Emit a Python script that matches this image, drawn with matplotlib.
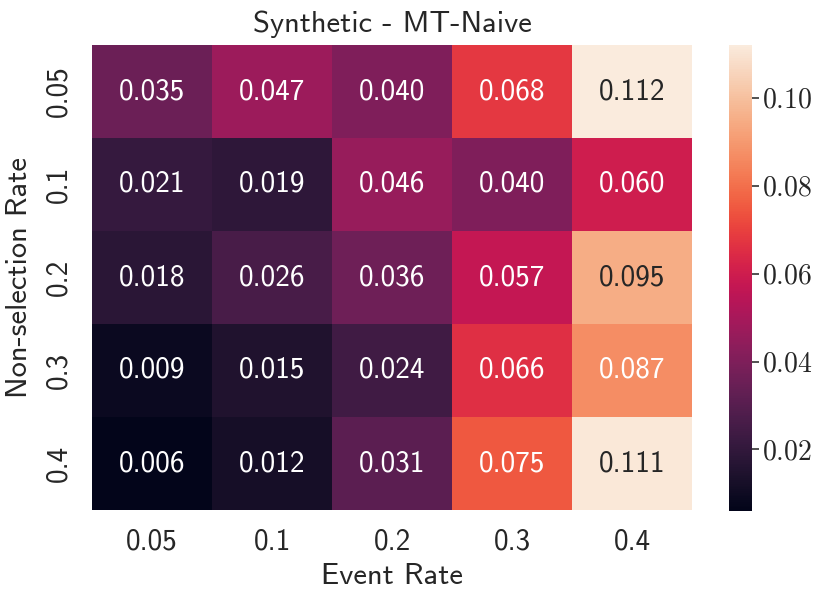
import os
import numpy as np
import matplotlib
matplotlib.use("Agg")
import matplotlib.pyplot as plt
import matplotlib.font_manager as fm
import seaborn as sns
from matplotlib.ticker import FuncFormatter

event_rates = ["0.05", "0.1", "0.2", "0.3", "0.4"]
nonsel_rates = ["0.05", "0.1", "0.2", "0.3", "0.4"]
values = np.array([
    [0.035, 0.047, 0.040, 0.068, 0.112],
    [0.021, 0.019, 0.046, 0.040, 0.060],
    [0.018, 0.026, 0.036, 0.057, 0.095],
    [0.009, 0.015, 0.024, 0.066, 0.087],
    [0.006, 0.012, 0.031, 0.075, 0.111],
])

ttf_dir = os.path.join(matplotlib.get_data_path(), "fonts", "ttf")
for f in ("cmss10.ttf", "cmr10.ttf"):
    p = os.path.join(ttf_dir, f)
    if os.path.exists(p):
        fm.fontManager.addfont(p)

sns.set_theme(style="white")
plt.rcParams['font.family'] = ['cmss10', 'DejaVu Sans']
plt.rcParams['mathtext.fontset'] = 'cm'
plt.rcParams['axes.unicode_minus'] = False

fig = plt.figure(figsize=(8.3, 6.03), dpi=100)
ax = fig.add_axes([92/830, 1-510/603, 600/830, 465/603])
cax = fig.add_axes([729/830, 1-511/603, 23/830, 466/603])

sns.heatmap(values, ax=ax, cbar_ax=cax, cmap="rocket", annot=True, fmt=".3f",
            annot_kws={"fontsize": 21},
            xticklabels=event_rates, yticklabels=nonsel_rates)

ax.set_title("Synthetic - MT-Naive", fontsize=22, pad=9)
ax.set_xlabel("Event Rate", fontsize=22, labelpad=6)
ax.set_ylabel("Non-selection Rate", fontsize=22, labelpad=9)
ax.tick_params(axis='x', labelsize=21, length=0, pad=13)
ax.tick_params(axis='y', labelsize=21, length=0, pad=14)
plt.setp(ax.get_yticklabels(), rotation=90, va='center')

cax.set_yticks([0.02, 0.04, 0.06, 0.08, 0.10])
cax.yaxis.set_major_formatter(FuncFormatter(lambda v, p: r"$%.2f$" % v))
cax.tick_params(labelsize=20, length=5, width=1.2, color='#333333', pad=2)
for s in cax.spines.values():
    s.set_visible(False)

fig.savefig("out.png", dpi=100)
